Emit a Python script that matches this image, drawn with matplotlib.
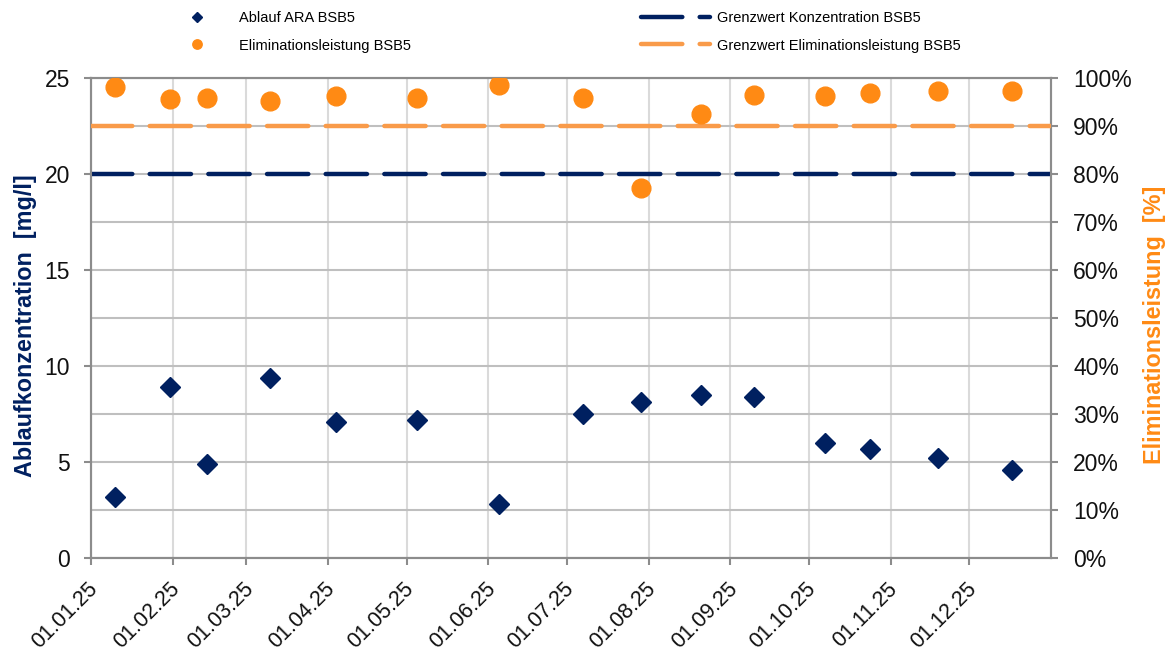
import numpy as np
import pandas as pd
import matplotlib.pyplot as plt
import matplotlib.dates as mdates
from matplotlib.ticker import MultipleLocator, PercentFormatter
from matplotlib.transforms import ScaledTranslation

plt.rcParams['font.family'] = ['Liberation Sans', 'DejaVu Sans']

# Sample dates (2025)
dates = pd.to_datetime([
    '2025-01-10', '2025-01-31', '2025-02-14', '2025-03-10', '2025-04-04',
    '2025-05-05', '2025-06-05', '2025-07-07', '2025-07-29', '2025-08-21',
    '2025-09-10', '2025-10-07', '2025-10-24', '2025-11-19', '2025-12-17'])

# Ablauf ARA BSB5 [mg/l]
ablauf_bsb5 = [3.2, 8.9, 4.9, 9.4, 7.1, 7.2, 2.8, 7.5, 8.1, 8.5, 8.4, 6.0, 5.7, 5.2, 4.6]
# Eliminationsleistung BSB5 [%]
elimination_bsb5 = [98.2, 95.6, 95.9, 95.2, 96.2, 95.9, 98.5, 95.9, 77.0, 92.6,
                    96.5, 96.2, 96.8, 97.2, 97.2]

grenzwert_konz = 20      # mg/l
grenzwert_elim = 90      # %
x_range = pd.to_datetime(['2025-01-01', '2026-01-01'])

navy = '#002060'
orange = '#FF8A14'
orange_light = '#F99B4A'
grid_h = '#BFBFBF'
grid_v = '#DADADA'
spine_c = '#8C8C8C'

fig = plt.figure(figsize=(11.75, 6.53), dpi=100)
ax = fig.add_axes([91 / 1175, 1 - 558 / 653, 960 / 1175, 480 / 653])
ax2 = ax.twinx()

# threshold lines
l_konz, = ax.plot(x_range, [grenzwert_konz] * 2, color=navy, lw=3.2,
                  dashes=(9.3, 3.9), dash_capstyle='round', zorder=3,
                  label='Grenzwert Konzentration BSB5')
l_elim, = ax2.plot(x_range, [grenzwert_elim / 100] * 2, color=orange_light, lw=3.2,
                   dashes=(9.3, 3.9), dash_capstyle='round', zorder=3,
                   label='Grenzwert Eliminationsleistung BSB5')

# points
p_abl, = ax.plot(dates, ablauf_bsb5, ls='none', marker='D', ms=10, color=navy,
                 mec=navy, zorder=4, label='Ablauf ARA BSB5')
p_elim, = ax2.plot(dates, np.array(elimination_bsb5) / 100, ls='none', marker='o',
                   ms=13.5, color=orange, mec=orange, zorder=4,
                   label='Eliminationsleistung BSB5')

# axes
ax.set_xlim(x_range[0], x_range[1])
ax.set_ylim(0, 25)
ax2.set_ylim(0, 1)
ax.set_xticks(pd.date_range('2025-01-01', '2025-12-01', freq='MS'))
ax.xaxis.set_major_formatter(mdates.DateFormatter('%d.%m.%y'))
ax.yaxis.set_major_locator(MultipleLocator(5))
ax.yaxis.set_minor_locator(MultipleLocator(2.5))
ax2.yaxis.set_major_locator(MultipleLocator(0.1))
ax2.yaxis.set_major_formatter(PercentFormatter(1.0, decimals=0))

ax.set_axisbelow(True)
ax.grid(axis='y', which='both', color=grid_h, lw=1.5)
ax.grid(axis='x', which='major', color=grid_v, lw=1.5)
ax.tick_params(axis='y', which='minor', length=0)

for a in (ax, ax2):
    for s in a.spines.values():
        s.set_color(spine_c)
        s.set_linewidth(1.5)
    a.tick_params(which='major', length=5, width=1.5, color=spine_c,
                  labelsize=16.5, labelcolor='#111111')
ax.tick_params(axis='y', pad=10)
ax2.tick_params(axis='y', pad=11)
ax.tick_params(axis='x', pad=15, labelsize=15.5)

# rotated date labels, nudged slightly right
shift = ScaledTranslation(4 / 100, 0, fig.dpi_scale_trans)
for lbl in ax.get_xticklabels():
    lbl.set_rotation(45)
    lbl.set_ha('right')
    lbl.set_va('center')
    lbl.set_rotation_mode('anchor')
    lbl.set_transform(lbl.get_transform() + shift)

ax.set_ylabel('Ablaufkonzentration  [mg/l]', color=navy, fontsize=16.8,
              fontweight='bold')
ax.yaxis.set_label_coords(-0.056, 0.485)
ax2.set_ylabel('Eliminationsleistung  [%]', color=orange, fontsize=16.8,
               fontweight='bold')
ax2.yaxis.set_label_coords(1.096, 0.485)

fig.legend(handles=[p_abl, p_elim, l_konz, l_elim], ncol=2, frameon=False,
           loc='upper left', bbox_to_anchor=(150 / 1175, 1 + 2 / 653),
           fontsize=10.5, handlelength=4.7, handletextpad=0.5,
           columnspacing=15.8, labelspacing=0.92, markerscale=0.5)

fig.savefig('out.png', dpi=100)
